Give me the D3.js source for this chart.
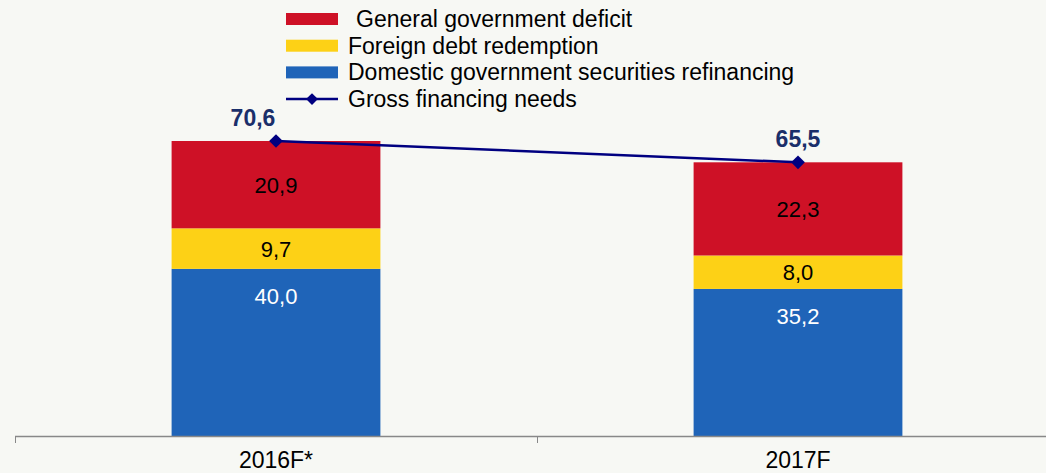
<!DOCTYPE html>
<html lang="en">
<head>
	<meta charset="UTF-8">
	<title>Gross financing needs</title>
	<script src="https://cdn.jsdelivr.net/npm/d3@7"></script>
	<style>
		body {margin: 0; background: #f7f8f4;}
		text {font-family: "Liberation Sans", Arial, sans-serif;}
	</style>
</head>
<body>
	<div id="chart"></div>
<script>
	// data
	let categories = ["2016F*", "2017F"];
	let domestic = [40.0, 35.2];
	let foreign = [9.7, 8.0];
	let deficit = [20.9, 22.3];
	let gross = [70.6, 65.5];

	let seriesNames = ["Domestic government securities refinancing", "Foreign debt redemption", "General government deficit"];
	let seriesColors = ["#1f64b8", "#fdd116", "#ce1126"];
	let labelColors = ["#ffffff", "#000000", "#000000"];

	let width = 1046, height = 473;
	let svg = d3.select("#chart").append("svg")
		.attr("width", width)
		.attr("height", height);

	let x = d3.scaleBand()
		.domain(categories)
		.range([15, 1059])
		.paddingInner(0.6)
		.paddingOuter(0.3);

	let y = d3.scaleLinear()
		.domain([0, 70.6])
		.range([436, 141]);

	let rows = categories.map(function(c, i){
		return {cat: c, s0: domestic[i], s1: foreign[i], s2: deficit[i]};
	});
	let stack = d3.stack().keys(["s0", "s1", "s2"]);
	let layers = stack(rows);

	//bars
	let g = svg.selectAll("g.layer")
		.data(layers)
		.enter()
		.append("g")
			.attr("class", "layer")
			.attr("fill", function(d, i){ return seriesColors[i]; });

	g.selectAll("rect")
		.data(function(d){ return d; })
		.enter()
		.append("rect")
			.attr("x", function(d){ return x(d.data.cat); })
			.attr("width", x.bandwidth())
			.attr("y", function(d){ return y(d[1]); })
			.attr("height", function(d){ return y(d[0]) - y(d[1]); });

	//value labels in bars (blue one sits near the top of its segment)
	layers.forEach(function(layer, li){
		svg.selectAll(null)
			.data(layer)
			.enter()
			.append("text")
				.attr("x", function(d){ return x(d.data.cat) + x.bandwidth() / 2; })
				.attr("y", function(d){
					if (li == 0) return y(d[1]) + 35;
					return (y(d[0]) + y(d[1])) / 2 + 8;
				})
				.attr("text-anchor", "middle")
				.attr("font-size", "22px")
				.attr("fill", labelColors[li])
				.text(function(d){ return (d[1] - d[0]).toFixed(1).replace(".", ","); });
	});

	//axis
	let step = x.step();
	let axisG = svg.append("g");
	axisG.append("line")
		.attr("x1", 15).attr("x2", width)
		.attr("y1", 436.5).attr("y2", 436.5)
		.attr("stroke", "#888").attr("stroke-width", 1.5);
	categories.forEach(function(c){
		let tx = Math.round(x(c) + x.bandwidth() / 2 - step / 2) + 0.5;
		axisG.append("line")
			.attr("x1", tx).attr("x2", tx)
			.attr("y1", 436).attr("y2", 443)
			.attr("stroke", "#888");
	});
	axisG.selectAll("text.cat")
		.data(categories)
		.enter()
		.append("text")
			.attr("class", "cat")
			.attr("x", function(d){ return x(d) + x.bandwidth() / 2; })
			.attr("y", 468)
			.attr("text-anchor", "middle")
			.attr("font-size", "23px")
			.attr("fill", "#000")
			.text(function(d){ return d; });

	//gross financing line
	let line = d3.line()
		.x(function(d, i){ return x(categories[i]) + x.bandwidth() / 2; })
		.y(function(d){ return y(d); });
	svg.append("path")
		.datum(gross)
		.attr("d", line)
		.attr("fill", "none")
		.attr("stroke", "#000080")
		.attr("stroke-width", 2.5);
	svg.selectAll("path.marker")
		.data(gross)
		.enter()
		.append("path")
			.attr("class", "marker")
			.attr("d", d3.symbol().type(d3.symbolDiamond2).size(120))
			.attr("transform", function(d, i){
				return "translate(" + (x(categories[i]) + x.bandwidth() / 2) + "," + y(d) + ")";
			})
			.attr("fill", "#000080");
	svg.selectAll("text.gross")
		.data(gross)
		.enter()
		.append("text")
			.attr("class", "gross")
			.attr("x", function(d, i){ return x(categories[i]) + x.bandwidth() / 2 - (i == 0 ? 23 : 0); })
			.attr("y", function(d){ return y(d) - 15; })
			.attr("text-anchor", "middle")
			.attr("font-size", "23px")
			.attr("font-weight", "bold")
			.attr("fill", "#1a2f6a")
			.text(function(d){ return d.toFixed(1).replace(".", ","); });

	//legend
	let legendNames = [seriesNames[2], seriesNames[1], seriesNames[0], "Gross financing needs"];
	let legendColors = [seriesColors[2], seriesColors[1], seriesColors[0], "#000080"];
	let legend = svg.selectAll("g.legend")
		.data(legendNames)
		.enter()
		.append("g")
			.attr("class", "legend")
			.attr("transform", function(d, i){ return "translate(286," + (19 + i * 26.7) + ")"; });
	legend.each(function(d, i){
		let el = d3.select(this);
		if (i < 3) {
			el.append("rect")
				.attr("x", 0).attr("y", -6)
				.attr("width", 52).attr("height", 12)
				.attr("fill", legendColors[i]);
		} else {
			el.append("line")
				.attr("x1", 0).attr("x2", 52)
				.attr("y1", 0).attr("y2", 0)
				.attr("stroke", legendColors[i]).attr("stroke-width", 2.5);
			el.append("path")
				.attr("d", d3.symbol().type(d3.symbolDiamond2).size(90))
				.attr("transform", "translate(26,0)")
				.attr("fill", legendColors[i]);
		}
		el.append("text")
			.attr("x", i == 0 ? 70 : 62)
			.attr("y", 8)
			.attr("font-size", "23px")
			.attr("fill", "#000")
			.text(d);
	});
</script>
</body>
</html>
